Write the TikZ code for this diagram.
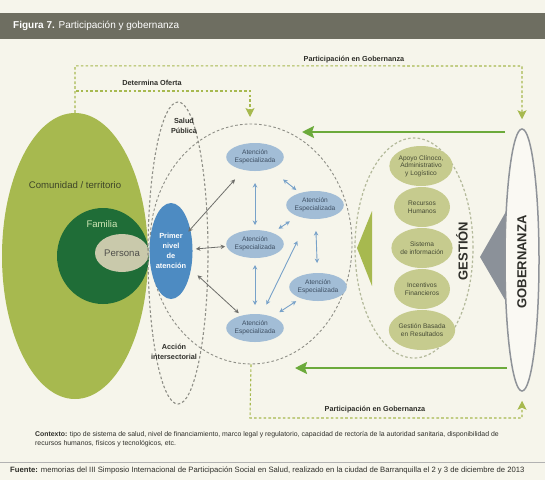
\documentclass[tikz,border=0pt]{standalone}
\usepackage{fontspec}
\setmainfont{Liberation Sans}
\usetikzlibrary{arrows.meta,calc,shapes.geometric}
\definecolor{bg}{HTML}{F6F5EB}
\definecolor{hdr}{HTML}{6E6E61}
\definecolor{olivea}{HTML}{A7B94F}
\definecolor{dkgreen}{HTML}{1F6D37}
\definecolor{famtxt}{HTML}{CFE6B5}
\definecolor{perscol}{HTML}{C9C9AB}
\definecolor{pblue}{HTML}{4D8BC2}
\definecolor{ablue}{HTML}{A2BDD6}
\definecolor{atxt}{HTML}{3D4E62}
\definecolor{barr}{HTML}{78A2C9}
\definecolor{grarr}{HTML}{6E6E6A}
\definecolor{garrc}{HTML}{6CAA3B}
\definecolor{dashg}{HTML}{8E8E86}
\definecolor{dashgl}{HTML}{B3B99A}
\definecolor{gfill}{HTML}{C6CB8E}
\definecolor{gtxt}{HTML}{464B35}
\definecolor{trigray}{HTML}{8B9199}
\definecolor{gobline}{HTML}{8F9399}
\definecolor{txtdark}{HTML}{2F2F2A}
\definecolor{comtxt}{HTML}{3E4528}
\tikzset{
  elli/.style={ellipse, inner sep=0pt},
  aten/.style={elli, fill=ablue, minimum width=54pt, minimum height=28pt, text=atxt, align=center, font=\fontsize{6.6}{7.6}\selectfont},
  gest/.style={elli, fill=gfill, minimum width=56pt, minimum height=40pt, text=gtxt, align=center, font=\fontsize{6.6}{7.6}\selectfont},
  graydash/.style={draw=dashg, line width=1.1pt, dash pattern=on 2.6pt off 2.2pt},
  odash/.style={draw=olivea, line width=1.1pt, dash pattern=on 2.6pt off 2.2pt},
  otip/.style={-{Stealth[width=9pt,length=9pt,inset=2pt]}},
  garr/.style={draw=garrc, line width=2.2pt, -{Stealth[width=12pt,length=12pt,inset=2pt]}},
  barrow/.style={draw=barr, line width=0.9pt, {Stealth[width=4.5pt,length=4.5pt]}-{Stealth[width=4.5pt,length=4.5pt]}},
  grayarrow/.style={draw=grarr, line width=0.8pt, {Stealth[width=4.5pt,length=4.5pt]}-{Stealth[width=4.5pt,length=4.5pt]}},
  lbl/.style={text=txtdark, font=\bfseries\fontsize{7.3}{10}\selectfont, align=center, inner sep=0pt}
}
\begin{document}
\begin{tikzpicture}[x=1pt,y=-1pt]
\useasboundingbox (0,0) rectangle (545,480);
\fill[bg] (0,0) rectangle (545,480);
\fill[hdr] (0,13) rectangle (545,39);
\node[anchor=west, text=white, inner sep=0pt, font=\fontsize{10}{12}\selectfont] (title) at (13,26) {\textbf{Figura 7.} Participación y gobernanza};

% Comunidad / Familia / Persona
\node[elli, fill=olivea, minimum width=146pt, minimum height=286pt] (com) at (75,256) {};
\node[text=comtxt, inner sep=0pt, font=\fontsize{9.6}{11}\selectfont] (comt) at (75,185) {Comunidad / territorio};
\node[elli, fill=dkgreen, minimum width=92pt, minimum height=96pt] (fam) at (103,256) {};
\node[text=famtxt, inner sep=0pt, font=\fontsize{9.6}{11}\selectfont] (famt) at (102,224) {Familia};
\node[elli, fill=perscol, minimum width=54pt, minimum height=38pt, text=txtdark!85, font=\fontsize{9.6}{11}\selectfont] (pers) at (122,253) {Persona};

% dashed ellipses
\node[elli, graydash, minimum width=60pt, minimum height=302pt] (sp) at (178,253) {};
\node[elli, graydash, line width=0.9pt, minimum width=202pt, minimum height=240pt] (circ) at (251,244) {};
\node[lbl] (spt) at (184,126) {Salud\\Pública};
\node[lbl] (ait) at (174,352) {Acción\\intersectorial};

% Primer nivel
\node[elli, fill=pblue, minimum width=42pt, minimum height=96pt, text=white, align=center, font=\bfseries\fontsize{7.4}{10.2}\selectfont] (p) at (171,251) {Primer\\nivel\\de\\atención};

% Atencion especializada
\node[aten] (a1) at (255,157) {Atención\\Especializada};
\node[aten] (a2) at (315,205) {Atención\\Especializada};
\node[aten] (a3) at (255,244) {Atención\\Especializada};
\node[aten] (a4) at (318,287) {Atención\\Especializada};
\node[aten] (a5) at (255,328) {Atención\\Especializada};

% arrows inside
\draw[grayarrow, shorten <=26pt, shorten >=30pt] (p.center) -- (a1.center);
\draw[grayarrow, shorten <=25pt, shorten >=30pt] (p.center) -- (a3.center);
\draw[grayarrow, shorten <=36pt, shorten >=22pt] (p.center) -- (a5.center);
\draw[barrow, shorten <=26pt, shorten >=19pt] (a1.center) -- (a3.center);
\draw[barrow, shorten <=36pt, shorten >=24pt] (a1.center) -- (a2.center);
\draw[barrow, shorten <=30pt, shorten >=28pt] (a2.center) -- (a3.center);
\draw[barrow, shorten <=26pt, shorten >=24pt, xshift=9pt] (a2.center) -- (a4.center);
\draw[barrow, shorten <=40pt, shorten >=26pt] (a2.center) -- (a5.center);
\draw[barrow, shorten <=21pt, shorten >=23pt, xshift=-3pt] (a3.center) -- (a5.center);
\draw[barrow, shorten <=26pt, shorten >=29pt] (a4.center) -- (a5.center);

% Gestion
\node[elli, draw=dashgl, line width=1.2pt, dash pattern=on 2.6pt off 2.2pt, minimum width=118pt, minimum height=220pt] (ge) at (414,248) {};
\fill[olivea] (357,248) -- (372,211) -- (372,286) -- cycle;
\node[gest] (g1) at (421,166) {Apoyo Clínoco,\\Administrativo\\y Logístico};
\node[gest] (g2) at (422,207) {Recursos\\Humanos};
\node[gest] (g3) at (422,248) {Sistema\\de información};
\node[gest] (g4) at (422,289) {Incentivos\\Financieros};
\node[gest] (g5) at (422,330) {Gestión Basada\\en Resultados};
\node[rotate=90, text=txtdark, inner sep=0pt, font=\bfseries\fontsize{13}{14}\selectfont] (gt) at (462,251) {GESTIÓN};

% Gobernanza
\fill[trigray] (480,257) -- (508,208) -- (508,305) -- cycle;
\node[elli, draw=gobline, fill=bg!60!white, line width=1.5pt, minimum width=34pt, minimum height=262pt] (gob) at (522,260) {};
\node[rotate=90, text=txtdark, inner sep=0pt, font=\bfseries\fontsize{13}{14}\selectfont] (gobt) at (522,262) {GOBERNANZA};

% green arrows
\coordinate (gta) at (505,132);
\coordinate (gtb) at (302,132);
\coordinate (gba) at (507,368);
\coordinate (gbb) at (295,368);
\draw[garr] (gta) -- (gtb);
\draw[garr] (gba) -- (gbb);

% dashed olive participation paths
\coordinate (tr) at (522,66);
\coordinate (dj) at (76,91);
\coordinate (dk) at (250,91);
\coordinate (dend) at (250,117);
\coordinate (bl) at (250,418);
\coordinate (br) at (522,418);
\draw[odash, otip, shorten >=9pt] (com.north) -- ($(com.north)+(0,-47)$) -- (tr) -- (gob.north);
\draw[odash, otip] (dj) -- (dk) -- (dend);
\draw[odash, otip, shorten >=9pt] (circ.south) -- (bl) -- (br) -- (gob.south);
\node[lbl] (pgt) at (354,60) {Participación en Gobernanza};
\node[lbl] (dot) at (152,83) {Determina Oferta};
\node[lbl] (pgb) at (375,410) {Participación en Gobernanza};

% context and source
\node[anchor=north west, align=left, inner sep=0pt, text=txtdark, font=\fontsize{6.9}{9}\selectfont] (ctx) at (35,431) {\textbf{Contexto:} tipo de sistema de salud, nivel de financiamiento, marco legal y regulatorio, capacidad de rectoría de la autoridad sanitaria, disponibilidad de\\recursos humanos, físicos y tecnológicos, etc.};
\draw[draw=gray!60, line width=0.8pt] (0,462) -- (545,462);
\node[anchor=west, inner sep=0pt, text=txtdark, font=\fontsize{7.7}{9}\selectfont] (src) at (10,470) {\textbf{Fuente:} memorias del III Simposio Internacional de Participación Social en Salud, realizado en la ciudad de Barranquilla el 2 y 3 de diciembre de 2013};
\end{tikzpicture}
\end{document}
